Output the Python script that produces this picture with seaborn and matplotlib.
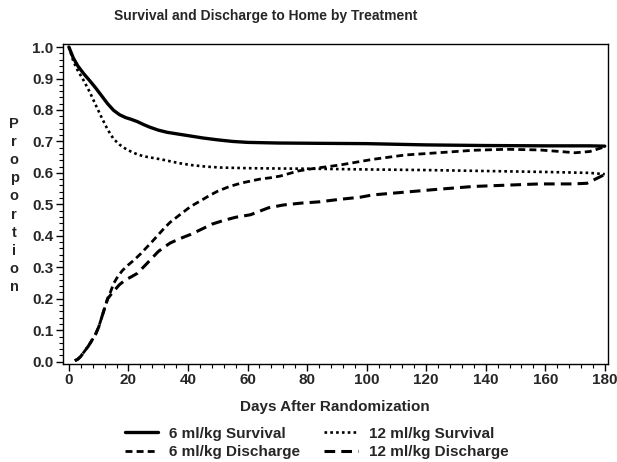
import numpy as np
import pandas as pd
import matplotlib
matplotlib.use('Agg')
import matplotlib.pyplot as plt
from matplotlib.ticker import MultipleLocator
import seaborn as sns

sns.set_style("ticks")
plt.rcParams['font.family'] = ['Liberation Sans', 'DejaVu Sans']
plt.rcParams['font.weight'] = 'bold'

# 6 ml/kg survival
surv6_days = [0, 1.5, 3, 5, 7, 9, 11, 13, 15, 17, 19, 21, 23, 25, 27, 30, 33, 37, 41, 45, 50, 55, 60,
              70, 84, 100, 120, 140, 160, 175, 180]
surv6_vals = [1.0, 0.965, 0.94, 0.915, 0.893, 0.870, 0.845, 0.82, 0.799, 0.785, 0.776, 0.770, 0.763,
              0.754, 0.746, 0.736, 0.729, 0.723, 0.717, 0.711, 0.705, 0.700, 0.697, 0.695, 0.694,
              0.693, 0.689, 0.687, 0.686, 0.686, 0.685]

# 12 ml/kg survival
surv12_days = [0, 1.5, 3, 5, 7, 9, 11, 13, 15, 17, 19, 21, 23, 25, 28, 31, 34, 37, 41, 46, 51, 60,
               70, 84, 100, 120, 140, 160, 175, 180]
surv12_vals = [1.0, 0.955, 0.925, 0.893, 0.857, 0.816, 0.776, 0.738, 0.708, 0.69, 0.677, 0.667,
               0.659, 0.653, 0.648, 0.643, 0.637, 0.631, 0.625, 0.62, 0.617, 0.615, 0.614, 0.613,
               0.611, 0.609, 0.606, 0.603, 0.600, 0.596]

# 6 ml/kg discharge
dis6_days = [2, 3, 4, 5, 6.5, 8, 9, 10, 11, 12, 13, 14, 15, 16.5, 18, 20, 22, 24, 26, 28, 30, 32, 34,
             37, 41, 44, 47, 50, 54, 58, 61, 64, 68, 71, 74, 77, 80, 83, 91, 102, 113, 124, 136, 147,
             158, 165, 170, 175, 180]
dis6_vals = [0.003, 0.008, 0.017, 0.03, 0.049, 0.072, 0.088, 0.11, 0.14, 0.17, 0.2, 0.222, 0.248,
             0.272, 0.29, 0.308, 0.324, 0.342, 0.362, 0.382, 0.403, 0.424, 0.443, 0.465, 0.494, 0.51,
             0.527, 0.542, 0.557, 0.568, 0.574, 0.58, 0.585, 0.59, 0.598, 0.606, 0.611, 0.615, 0.625,
             0.643, 0.657, 0.664, 0.672, 0.675, 0.673, 0.668, 0.664, 0.668, 0.683]

# 12 ml/kg discharge
dis12_days = [2, 3, 4, 5, 6.5, 8, 9, 10, 11, 12, 13, 14, 15.5, 17, 19, 21, 23, 26, 28, 30, 32, 34, 37,
              41, 45, 48, 52, 56, 61, 64, 67, 72, 78, 84, 91, 98, 102, 113, 124, 136, 147, 158, 169,
              174, 180]
dis12_vals = [0.003, 0.008, 0.017, 0.03, 0.049, 0.072, 0.088, 0.11, 0.14, 0.17, 0.2, 0.212, 0.229,
              0.245, 0.26, 0.27, 0.281, 0.31, 0.33, 0.35, 0.364, 0.377, 0.39, 0.405, 0.423, 0.437,
              0.449, 0.459, 0.467, 0.478, 0.489, 0.498, 0.504, 0.508, 0.516, 0.523, 0.53, 0.539, 0.548,
              0.557, 0.561, 0.565, 0.565, 0.567, 0.595]

series_labels = ['6 ml/kg Survival', '6 ml/kg Discharge', '12 ml/kg Survival', '12 ml/kg Discharge']

fig = plt.figure(figsize=(6.17, 4.62), dpi=100)
ax = fig.add_axes([0.102, 0.213, 0.883, 0.692])

series = [
    (surv6_days, surv6_vals, series_labels[0], '-', 2.4),
    (dis6_days, dis6_vals, series_labels[1], (0, (2.5, 1.5)), 2.0),
    (surv12_days, surv12_vals, series_labels[2], (0, (1, 1.2)), 1.9),
    (dis12_days, dis12_vals, series_labels[3], (0, (3.5, 2)), 2.2),
]
for d, v, lab, ls, lw in series:
    df = pd.DataFrame({'day': d, 'prop': v})
    sns.lineplot(data=df, x='day', y='prop', ax=ax, color='black', linestyle=ls, linewidth=lw, label=lab)

ax.set_xlim(-2, 181)
ax.set_ylim(-0.006, 1.01)
ax.xaxis.set_major_locator(MultipleLocator(20))
ax.xaxis.set_minor_locator(MultipleLocator(4))
ax.yaxis.set_minor_locator(MultipleLocator(0.02))
yticks = np.arange(0, 1.01, 0.1)
ax.set_yticks(yticks)
ax.set_yticklabels([f'{t:.1f}' for t in yticks])
ax.tick_params(which='major', length=5, width=1, labelsize=11, color='black', pad=2)
ax.tick_params(which='minor', length=3, width=0.8, color='black')
for s in ax.spines.values():
    s.set_visible(True)
    s.set_color('black')
    s.set_linewidth(1)

ax.set_xlabel('Days After Randomization', fontsize=11, fontweight='bold', labelpad=9)
ax.set_ylabel('')
fig.text(0.023, 0.555, '\n'.join('Proportion'), ha='center', va='center',
         fontsize=10.5, fontweight='bold', linespacing=1.38)
fig.text(0.43, 0.965, 'Survival and Discharge to Home by Treatment', ha='center', va='center',
         fontsize=10, fontweight='bold')

ax.get_legend().remove()
handles, labels = ax.get_legend_handles_labels()
fig.legend(handles, labels, ncol=2, loc='center', bbox_to_anchor=(0.513, 0.041), frameon=False,
           fontsize=11, handlelength=2.2, columnspacing=1.6, labelspacing=0.3, handletextpad=0.7)

fig.savefig('out.png', dpi=100)
